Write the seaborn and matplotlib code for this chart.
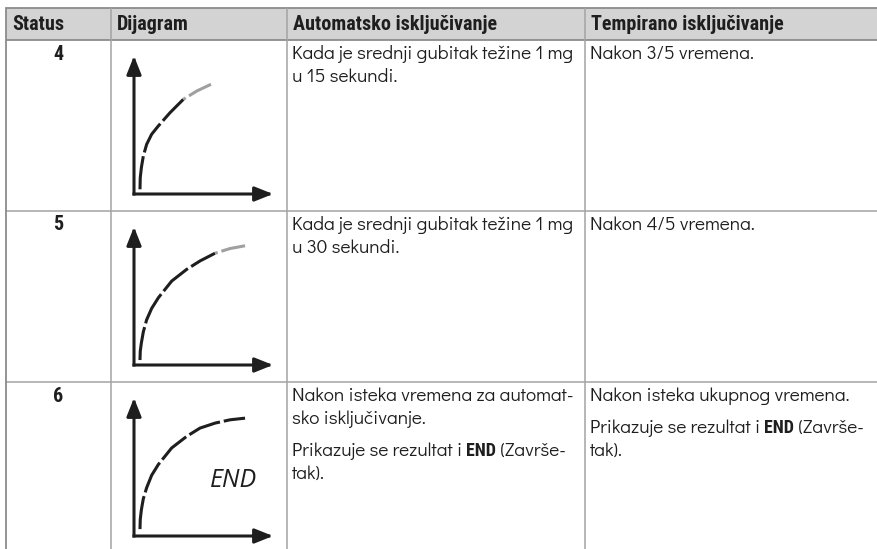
import matplotlib
matplotlib.use("Agg")
import matplotlib.pyplot as plt
from matplotlib.patches import Rectangle
import seaborn as sns
import pandas as pd

sns.set_theme(style="white")
plt.rcParams['font.family'] = ['Didact Gothic', 'Open Sans', 'DejaVu Sans']
plt.rcParams['lines.scale_dashes'] = False

# table content
headers = ["Status", "Dijagram", "Automatsko isključivanje", "Tempirano isključivanje"]
statuses = ["4", "5", "6"]
auto_text = [
    [["Kada je srednji gubitak težine 1 mg", "u 15 sekundi."]],
    [["Kada je srednji gubitak težine 1 mg", "u 30 sekundi."]],
    [["Nakon isteka vremena za automat-", "sko isključivanje."],
     ["Prikazuje se rezultat i |END| (Završe-", "tak)."]],
]
timed_text = [
    [["Nakon 3/5 vremena."]],
    [["Nakon 4/5 vremena."]],
    [["Nakon isteka ukupnog vremena."],
     ["Prikazuje se rezultat i |END| (Završe-", "tak)."]],
]

# diagram curves (axis origin = 0, arrow tips = 1)
curve4_x = [0.043, 0.045, 0.053, 0.067, 0.091, 0.127, 0.175, 0.259, 0.355, 0.451, 0.554]
curve4_y = [0.034, 0.118, 0.191, 0.275, 0.360, 0.433, 0.493, 0.589, 0.686, 0.746, 0.795]
curve4_grey_from = 8
curve5_x = [0.043, 0.045, 0.053, 0.067, 0.091, 0.127, 0.175, 0.271, 0.379, 0.475, 0.583, 0.691, 0.799]
curve5_y = [0.036, 0.100, 0.160, 0.240, 0.328, 0.410, 0.487, 0.608, 0.693, 0.754, 0.810, 0.844, 0.864]
curve5_grey_from = 10
curve6_x = [0.043, 0.045, 0.053, 0.067, 0.091, 0.127, 0.175, 0.271, 0.379, 0.475, 0.583, 0.691, 0.799]
curve6_y = [0.050, 0.120, 0.190, 0.270, 0.350, 0.440, 0.518, 0.638, 0.722, 0.782, 0.818, 0.842, 0.854]
curve6_grey_from = None

curves = [(curve4_x, curve4_y, curve4_grey_from),
          (curve5_x, curve5_y, curve5_grey_from),
          (curve6_x, curve6_y, curve6_grey_from)]

W, H = 877, 549
col_x = [6, 111, 287, 585]
top, head_bot = 8, 40
row_tops = [40, 211, 382]
TXT = '#1e1e1e'
LINE = '#a3a3a3'
HEAD_FONT = ['Roboto Condensed', 'Asap Condensed', 'DejaVu Sans']
HEAD_SIZE = 14.5
BODY_SIZE = 13.8

fig = plt.figure(figsize=(W / 100, H / 100), dpi=100)
ax = fig.add_axes([0, 0, 1, 1])
ax.set_xlim(0, W)
ax.set_ylim(H, 0)
ax.axis('off')

# grid
ax.add_patch(Rectangle((col_x[0], top), W - col_x[0], head_bot - top, facecolor='#d3d3d3', edgecolor='none'))
for y in [top, head_bot]:
    ax.plot([col_x[0], W], [y, y], color='#8c8c8c', lw=1.3)
for y in row_tops[1:]:
    ax.plot([col_x[0], W], [y, y], color=LINE, lw=1.1)
for x in col_x:
    ax.plot([x, x], [top, H], color='#8c8c8c' if x == col_x[0] else LINE, lw=1.3 if x == col_x[0] else 1.1)

for x, h in zip(col_x, headers):
    ax.text(x + 6, (top + head_bot) / 2 + 1, h, fontsize=HEAD_SIZE, fontweight='bold', color=TXT,
            family=HEAD_FONT, ha='left', va='center')


def draw_cell(x, y, paragraphs):
    for para in paragraphs:
        for line in para:
            parts = line.split('|')
            t = ax.text(x, y, parts[0], fontsize=BODY_SIZE, color=TXT, ha='left', va='center')
            bold = True
            for p in parts[1:]:
                t = ax.annotate(p, xy=(1, 0), xycoords=t, fontsize=13 if bold else BODY_SIZE,
                                color=TXT, fontweight='bold' if bold else 'normal',
                                family=HEAD_FONT if bold else None, ha='left', va='bottom')
                bold = not bold
            y += 23
        y += 9


for i, rt in enumerate(row_tops):
    y0 = rt + 14
    ax.text((col_x[0] + col_x[1]) / 2, y0, statuses[i], fontsize=HEAD_SIZE, fontweight='bold',
            family=HEAD_FONT, color=TXT, ha='center', va='center')
    draw_cell(col_x[2] + 5, y0, auto_text[i])
    draw_cell(col_x[3] + 5, y0, timed_text[i])

    # diagram
    ox, oy = 134, rt + 154
    dax = fig.add_axes([ox / W, 1 - oy / H, 139 / W, 138 / H])
    dax.set_xlim(0, 1)
    dax.set_ylim(0, 1)
    dax.axis('off')
    cx, cy, g = curves[i]
    df = pd.DataFrame({'x': cx, 'y': cy})
    black = df if g is None else df.iloc[:g + 1]
    sns.lineplot(data=black, x='x', y='y', ax=dax, sort=False, estimator=None,
                 color='#1e1e1e', lw=2.2, linestyle=(0, (24, 2.8)), solid_capstyle='butt')
    if g is not None:
        sns.lineplot(data=df.iloc[g:], x='x', y='y', ax=dax, sort=False, estimator=None,
                     color='#a0a0a0', lw=2.2, linestyle=(22, (24, 2.8)))
    for tip in [(1, 0), (0, 1)]:
        dax.annotate('', xy=tip, xytext=(0, 0), xycoords='axes fraction',
                     arrowprops=dict(arrowstyle='-|>,head_length=0.55,head_width=0.22',
                                     mutation_scale=20, lw=2.2, color='#1e1e1e',
                                     shrinkA=0, shrinkB=0, capstyle='projecting'),
                     annotation_clip=False)
    if i == 2:
        dax.text(0.547, 0.353, "END", fontsize=18, family=['Open Sans', 'DejaVu Sans'],
                 style='italic', color='#1e1e1e', ha='left', va='baseline')

fig.savefig('out.png', dpi=100)
